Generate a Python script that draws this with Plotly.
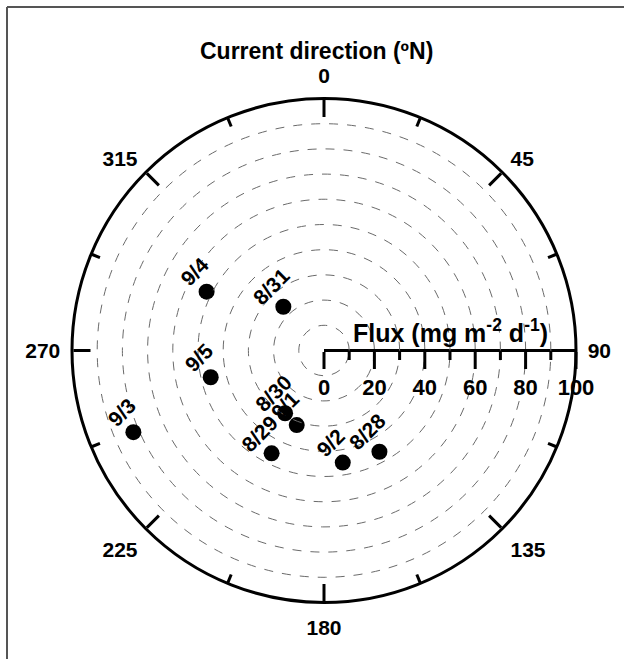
import numpy as np
import plotly.graph_objects as go

# Sampling dates, particle flux and current direction for each deployment
dates = ["8/28", "8/29", "8/30", "8/31", "9/1", "9/2", "9/3", "9/4", "9/5"]
flux = [45.8, 45.8, 29.3, 23.7, 31.5, 45.1, 82.3, 52.1, 46.2]          # mg m-2 d-1
direction = [151.3, 207.0, 211.8, 317.1, 200.1, 170.5, 246.8, 296.6, 256.7]  # degrees N

# Axis ticks
dir_major = [0, 45, 90, 135, 180, 225, 270, 315]
dir_minor = [22.5, 67.5, 112.5, 157.5, 202.5, 247.5, 292.5, 337.5]
flux_major = [0, 20, 40, 60, 80, 100]
flux_minor = [10, 30, 50, 70, 90]
flux_max = 100

# Figure geometry (pixels)
W, H = 624, 659
CX, CY, R = 324, 350.5, 252
FONT = "Liberation Sans, Arial, sans-serif"

dom_x = [(CX - R) / W, (CX + R) / W]
dom_y = [(H - CY - R) / H, (H - CY + R) / H]

grid = dict(showgrid=True, gridcolor="#6a6a6a", gridwidth=1.2, griddash="dash")
clear = "rgba(0,0,0,0)"

fig = go.Figure()
fig.add_trace(go.Scatterpolar(
    r=flux, theta=direction, mode="markers",
    marker=dict(size=16, color="black"),
    subplot="polar", showlegend=False, hoverinfo="text", text=dates,
))
# Empty traces so the overlay polar frames are rendered
fig.add_trace(go.Scatterpolar(r=[], theta=[], subplot="polar2", showlegend=False))
fig.add_trace(go.Scatterpolar(r=[], theta=[], subplot="polar3", showlegend=False))

fig.update_layout(
    width=W, height=H,
    margin=dict(l=0, r=0, t=0, b=0),
    paper_bgcolor="white",
    font=dict(family=FONT, color="black"),
    # main frame: outer circle, major ticks, radial axis with labels
    polar=dict(
        domain=dict(x=dom_x, y=dom_y),
        bgcolor=clear,
        angularaxis=dict(
            rotation=90, direction="clockwise",
            tickmode="array", tickvals=dir_major,
            ticks="inside", ticklen=17, tickwidth=3, tickcolor="black",
            showline=True, linecolor="black", linewidth=3,
            showgrid=False, showticklabels=False,
        ),
        radialaxis=dict(
            range=[0, flux_max], angle=0, side="clockwise",
            tickmode="array", tickvals=flux_major, ticktext=[str(v) for v in flux_major],
            ticks="outside", ticklen=17, tickwidth=2.5, tickcolor="black",
            showline=True, linecolor="black", linewidth=3,
            tickangle=0,
            tickfont=dict(size=22, weight="bold", family=FONT),
            **grid,
        ),
    ),
    # minor ticks and intermediate dashed circles
    polar2=dict(
        domain=dict(x=dom_x, y=dom_y),
        bgcolor=clear,
        angularaxis=dict(
            rotation=90, direction="clockwise",
            tickmode="array", tickvals=dir_minor,
            ticks="inside", ticklen=9, tickwidth=2.5, tickcolor="black",
            showline=False, showgrid=False, showticklabels=False,
        ),
        radialaxis=dict(
            range=[0, flux_max], angle=0, side="clockwise",
            tickmode="array", tickvals=flux_minor,
            ticks="outside", ticklen=9, tickwidth=2.5, tickcolor="black",
            showline=False, showticklabels=False,
            **grid,
        ),
    ),
    # direction labels, set slightly off the circle
    polar3=dict(
        domain=dict(x=dom_x, y=dom_y),
        bgcolor=clear,
        angularaxis=dict(
            rotation=90, direction="clockwise",
            tickmode="array", tickvals=dir_major, ticktext=[str(v) for v in dir_major],
            ticks="outside", ticklen=7, tickcolor=clear,
            showline=False, showgrid=False,
            tickfont=dict(size=21, weight="bold", family=FONT),
        ),
        radialaxis=dict(range=[0, flux_max], visible=False),
    ),
)

# Rotated date labels next to each point
for d, r, th in zip(dates, flux, direction):
    rad = np.deg2rad(th)
    px = CX + r / flux_max * R * np.sin(rad)
    py = CY - r / flux_max * R * np.cos(rad)
    fig.add_annotation(
        x=px / W, y=1 - py / H, xref="paper", yref="paper",
        xanchor="center", yanchor="middle",
        text=d, showarrow=False, textangle=-45,
        xshift=-12, yshift=20,
        font=dict(size=21, weight="bold", family=FONT, color="black"),
    )

fig.add_annotation(
    x=316 / W, y=1 - 51 / H, xref="paper", yref="paper",
    xanchor="center", yanchor="middle",
    text="Current direction (ºN)", showarrow=False,
    font=dict(size=23, weight="bold", family=FONT),
)
fig.add_annotation(
    x=450 / W, y=1 - 331 / H, xref="paper", yref="paper",
    xanchor="center", yanchor="middle",
    text="Flux (mg m<sup>-2</sup> d<sup>-1</sup>)",
    showarrow=False,
    font=dict(size=25, weight="bold", family=FONT),
)

# Frame lines along the top and left edges
fig.add_shape(type="line", xref="paper", yref="paper",
              x0=7 / W, y0=1 - 7 / H, x1=1, y1=1 - 7 / H,
              line=dict(color="#555555", width=2))
fig.add_shape(type="line", xref="paper", yref="paper",
              x0=7 / W, y0=1 - 7 / H, x1=7 / W, y1=0,
              line=dict(color="#555555", width=2))

fig.write_html("out.html")
